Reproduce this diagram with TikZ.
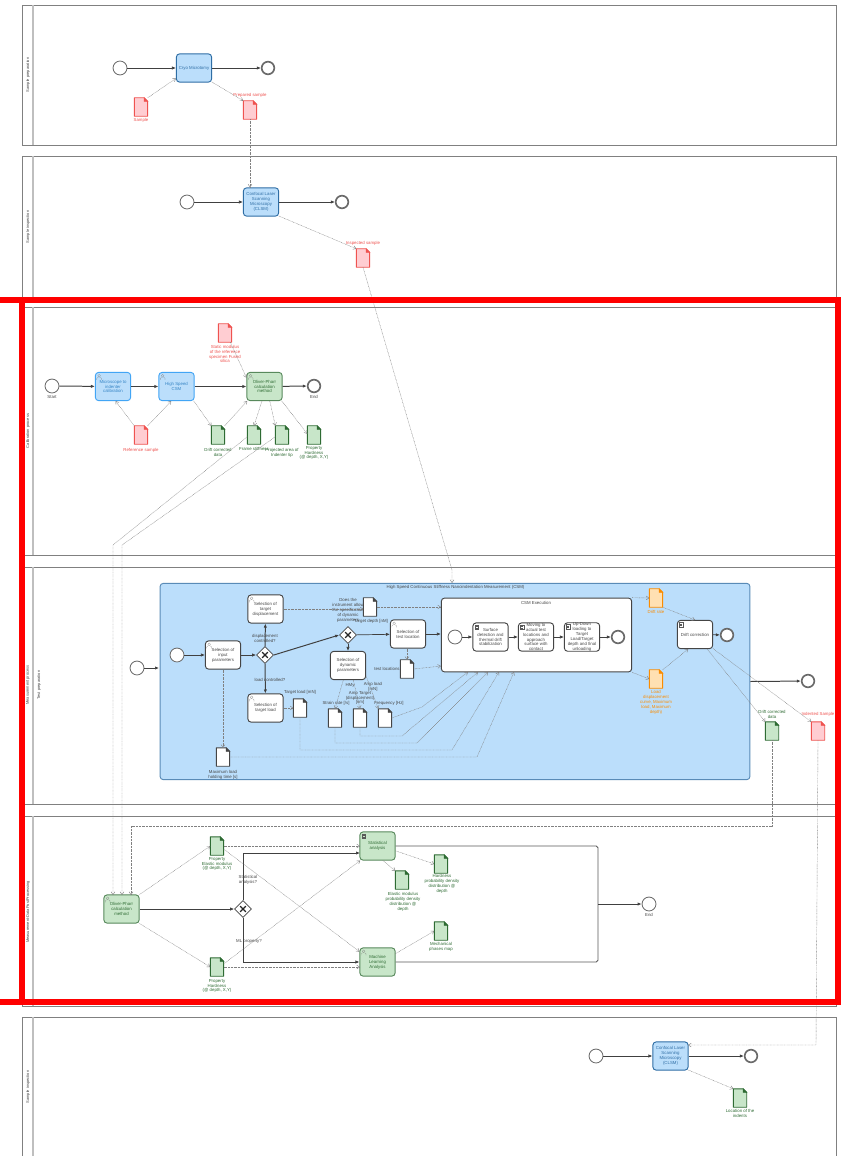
\documentclass[tikz,border=0pt]{standalone}
\usepackage{fontspec}
\setmainfont{Liberation Sans}
\usetikzlibrary{arrows.meta,shapes.geometric}
\definecolor{blueFill}{HTML}{BBDEFB}
\definecolor{blueDark}{HTML}{2F6EA5}
\definecolor{blueLine}{HTML}{42A5F5}
\definecolor{greenFill}{HTML}{C8E6C9}
\definecolor{greenLine}{HTML}{2E6B33}
\definecolor{redFill}{HTML}{FFCDD2}
\definecolor{redLine}{HTML}{EF5350}
\definecolor{orangeFill}{HTML}{FFE0B2}
\definecolor{orangeLine}{HTML}{FB8C00}
\definecolor{inkGray}{HTML}{454545}
\tikzset{
  tiny3/.style={font=\fontsize{3.7}{4.2}\selectfont,align=center},
  lane/.style={draw=gray,line width=0.8pt},
  lanebar/.style={draw=gray!50,line width=1.5pt},
  lanename/.style={font=\fontsize{3.4}{4.1}\selectfont,rotate=90,text=inkGray,inner sep=0pt},
  event/.style={circle,draw=inkGray!80,fill=white,line width=0.7pt,minimum size=11.9pt,inner sep=0pt},
  endevent/.style={event,line width=1.4pt,minimum size=10.8pt},
  taskbox/.style={tiny3,rectangle,rounded corners=2.6pt,line width=0.8pt,minimum width=30pt,minimum height=24pt,inner sep=0pt},
  bluetask/.style={taskbox,draw=blueDark,fill=blueFill,text=blueDark},
  caltask/.style={taskbox,draw=blueLine,fill=blueFill,text=blueLine!80!black},
  greentask/.style={taskbox,draw=greenLine!80,fill=greenFill,text=greenLine},
  whitetask/.style={taskbox,draw=inkGray,fill=white,text=inkGray},
  usermark/.style={path picture={
    \draw[line width=0.15pt,draw=gray,rounded corners=0pt] ([shift={(3.2pt,-2.8pt)}]path picture bounding box.north west) circle (1.2pt);
    \draw[line width=0.15pt,draw=gray,rounded corners=0pt] ([shift={(1.2pt,-6.4pt)}]path picture bounding box.north west) -- ++(0,1.4pt) -- ++(1pt,.8pt) -- ++(2pt,0) -- ++(1pt,-.8pt) -- ++(0,-1.4pt);}},
  scriptmark/.style={path picture={
    \draw[line width=0.15pt,draw=gray!70!black,rounded corners=0pt] ([shift={(1.5pt,-1.5pt)}]path picture bounding box.north west) rectangle ++(3pt,-4pt);
    \draw[line width=0.15pt,draw=gray!70!black,rounded corners=0pt] ([shift={(2.1pt,-2.8pt)}]path picture bounding box.north west) -- ++(1.8pt,0) ++(-1.8pt,-1.2pt) -- ++(1.8pt,0);}},
  gatewayx/.style={diamond,draw=inkGray,fill=white,line width=0.6pt,minimum width=14.5pt,minimum height=14.5pt,inner sep=0pt,aspect=1,
    path picture={\draw[line width=1.1pt,draw=black!85] ([shift={(-2.4pt,-2.4pt)}]path picture bounding box.center) -- ++(4.8pt,4.8pt) ++(-4.8pt,0) -- ++(4.8pt,-4.8pt);}},
  docfile/.style n args={2}{rectangle,minimum width=11pt,minimum height=15.3pt,inner sep=0pt,
    append after command={\pgfextra{
      \draw[line width=0.75pt,draw=#1,fill=#2,line join=round] (\tikzlastnode.north west) -- ([xshift=-3pt]\tikzlastnode.north east) -- ([yshift=-3pt]\tikzlastnode.north east) -- (\tikzlastnode.south east) -- (\tikzlastnode.south west) -- cycle;
      \draw[line width=0.5pt,draw=#1,fill=#1] ([xshift=-3pt]\tikzlastnode.north east) -- ([yshift=-3pt]\tikzlastnode.north east) -- ([shift={(-3pt,-3pt)}]\tikzlastnode.north east) -- cycle;}}},
  reddoc/.style={docfile={redLine}{redFill}},
  greendoc/.style={docfile={greenLine}{greenFill}},
  orangedoc/.style={docfile={orangeLine}{orangeFill}},
  whitedoc/.style={docfile={inkGray}{white}},
  lab/.style={tiny3,inner sep=0pt,text=inkGray},
  redlab/.style={lab,text=redLine},
  greenlab/.style={lab,text=greenLine},
  orangelab/.style={lab,text=orangeLine},
  seqflow/.style={draw=black!75,line width=0.6pt,-{Latex[length=3.4pt,width=2.8pt]}},
  boldflow/.style={seqflow,line width=0.85pt},
  dataflow/.style={draw=black!50,line width=0.35pt,dash pattern=on 0.6pt off 0.6pt,-{Straight Barb[length=2.4pt,width=3.2pt]}},
}
\begin{document}
\begin{tikzpicture}[x=0.03cm,y=-0.03cm]
\useasboundingbox (0,0) rectangle (846,1156);
\fill[white] (0,0) rectangle (846,1156);
\draw[lane] (22.5,5) rectangle (836,145);
\draw[lane] (22.5,156) rectangle (836,297);
\draw[lane] (22.5,307) rectangle (836,555);
\draw[lane] (22.5,567) rectangle (836,804);
\draw[lane] (22.5,816) rectangle (836,1006);
\draw[lane] (22.5,1156) -- (22.5,1017) -- (836,1017) -- (836,1156);
\draw[lanebar] (33,5) -- (33,145);
\draw[lanebar] (33,156) -- (33,297);
\draw[lanebar] (33,307) -- (33,555);
\draw[lanebar] (33,567) -- (33,804);
\draw[lanebar] (33,816) -- (33,1006);
\draw[lanebar] (33,1017) -- (33,1156);
\node[lanename] (lanePrep) at (28,75) {Sample preparation};
\node[lanename] (laneInsp) at (28,227) {Sample inspection};
\node[lanename] (laneCal) at (28,431) {Calibration process};
\node[lanename] (laneMeas) at (28,685) {Measurement process};
\node[lanename] (laneTest) at (39,685) {Test preparation};
\node[lanename] (lanePost) at (28,912) {Measurement-DataPostProcessing};
\node[lanename] (laneFinal) at (28,1087) {Sample inspection};

\node[event] (prepStart) at (120,68) {};
\node[bluetask] (cryoTask) at (194,68) {Cryo Microtomy};
\node[endevent] (prepEnd) at (268,68) {};
\node[reddoc] (sampleDoc) at (141,107) {};
\node[redlab] (sampleLab) at (141,120) {Sample};
\node[reddoc] (preparedDoc) at (250,110) {};
\node[redlab] (preparedLab) at (250,95) {Prepared sample};
\draw[seqflow] (prepStart) -- (cryoTask);
\draw[seqflow] (cryoTask) -- (prepEnd);
\draw[dataflow] (sampleDoc.north east) -- (cryoTask.-150);
\draw[dataflow] (cryoTask.-38) -- (preparedDoc.north west);

\node[event] (inspStart) at (187,202) {};
\node[bluetask] (clsmTask) at (261,202) {Confocal Laser\\Scanning\\Microscopy\\(CLSM)};
\node[endevent] (inspEnd) at (342,202) {};
\node[reddoc] (inspectedDoc) at (363,258) {};
\node[redlab] (inspectedLab) at (363,243) {Inspected sample};
\draw[seqflow] (inspStart) -- (clsmTask);
\draw[seqflow] (clsmTask) -- (inspEnd);
\draw[dataflow] (preparedDoc.south) -- (preparedDoc.south |- clsmTask.north);
\draw[dataflow] (clsmTask.-38) -- (inspectedDoc.north west);

\node[event] (calStart) at (52,386) {};
\node[lab] (calStartLab) at (52,397) {Start};
\node[caltask,usermark] (microTask) at (113,386.5) {Microscope to\\indenter\\calibration};
\node[caltask,usermark] (speedTask) at (176.5,386.5) {High Speed\\CSM};
\node[greentask,usermark] (oliverTask) at (264.5,386.5) {Oliver-Pharr\\calculation\\method};
\node[endevent] (calEnd) at (314,386) {};
\node[lab] (calEndLab) at (314,397) {End};
\node[reddoc] (staticDoc) at (225,333) {};
\node[redlab] (staticLab) at (225,354) {Static modulus\\of the reference\\specimen Fused\\silica};
\node[reddoc] (referenceDoc) at (141,435) {};
\node[redlab] (referenceLab) at (141,450) {Reference sample};
\node[greendoc] (driftDoc) at (218,435) {};
\node[greenlab] (driftLab) at (218,452.5) {Drift corrected\\data};
\node[greendoc] (frameDoc) at (254,435) {};
\node[greenlab] (frameLab) at (254,449) {Frame stiffness};
\node[greendoc] (areaDoc) at (282,435) {};
\node[greenlab] (areaLab) at (282,452.5) {Projected area of\\Indenter tip};
\node[greendoc] (propDoc) at (314,435) {};
\node[greenlab] (propLab) at (314,453) {Property\\Hardness\\(@ depth, X,Y)};
\draw[boldflow] (calStart) -- (microTask);
\draw[boldflow] (microTask) -- (speedTask);
\draw[boldflow] (speedTask) -- (oliverTask);
\draw[boldflow] (oliverTask) -- (calEnd);
\draw[dataflow] (referenceDoc.north west) -- (microTask.-80);
\draw[dataflow] (referenceDoc.north east) -- (speedTask.-110);
\draw[dataflow] (speedTask.-40) -- (driftDoc.north west);
\draw[dataflow] (driftDoc.north east) -- (oliverTask.-140);
\draw[dataflow] (staticDoc.-60) -- (oliverTask.154);
\draw[dataflow] (oliverTask.-100) -- (frameDoc.north);
\draw[dataflow] (oliverTask.-70) -- (areaDoc.north west);
\draw[dataflow] (oliverTask.-40) -- (propDoc.170);

\node[draw=blueDark!80,fill=blueFill,line width=0.8pt,rounded corners=2.6pt,minimum width=503.4pt,minimum height=167.5pt,inner sep=0pt] (csmProcess) at (455,681.5) {};
\node[lab] (csmProcessLab) at (455.5,587) {High Speed Continuous Stiffness Nanoindentation Measurement (CSM)};
\node[draw=inkGray,fill=white,line width=0.8pt,rounded corners=2.6pt,minimum width=162.4pt,minimum height=62.9pt,inner sep=0pt] (csmRun) at (536.5,635) {};
\node[lab] (csmRunLab) at (536,603) {CSM Execution};
\node[event] (outerStart) at (137,668) {};
\coordinate (outerIn) at (159,668);
\node[endevent] (outerEnd) at (808,681) {};
\node[event] (innerStart) at (177,655) {};
\node[whitetask,usermark] (inputTask) at (223,655) {Selection of\\input\\parameters};
\node[gatewayx] (modeGate) at (265,655) {};
\node[lab] (dispAsk) at (265,638) {displacement\\controlled?};
\node[lab] (loadAsk) at (270,680) {load controlled?};
\node[whitetask,usermark] (dispTask) at (265.5,609) {Selection of\\target\\displacement};
\node[whitetask,usermark] (loadTask) at (265.5,708) {Selection of\\target load};
\node[whitedoc] (loadDoc) at (300,708) {};
\node[lab] (loadDocLab) at (300,692) {Target load [mN]};
\node[whitedoc] (depthDoc) at (370,607) {};
\node[lab] (askLab) at (348,610.5) {Does the\\instrument allow\\the specification\\of dynamic\\parameters};
\node[lab] (depthLab) at (371,621) {Target depth [nM]};
\node[gatewayx] (dynGate) at (348,635) {};
\node[whitetask] (dynTask) at (348,665.5) {Selection of\\dynamic\\parameters};
\node[whitetask,usermark] (placeTask) at (408,634) {Selection of\\test location};
\node[whitedoc] (placeDoc) at (407,669) {};
\node[lab] (placeLab) at (387,669) {test locations};
\node[whitedoc] (rateDoc) at (335,718) {};
\node[lab] (rateLab) at (336,703) {Strain rate [/s]};
\node[whitedoc] (ampDoc) at (360,718) {};
\node[lab] (hmyLab) at (350,685) {HMy};
\node[lab] (ampLoadLab) at (373,687) {Amp load\\{}[mN]};
\node[lab] (ampLab) at (360,698) {Amp Target\\(displacement)\\{}[nm]};
\node[whitedoc] (freqDoc) at (385,718) {};
\node[lab] (freqLab) at (389,703) {Frequency [Hz]};
\node[whitedoc] (holdDoc) at (223,757) {};
\node[lab] (holdLab) at (223,774.5) {Maximum load\\holding time [s]};
\node[event] (runStart) at (455,637) {};
\node[whitetask,scriptmark] (surfTask) at (490.5,637) {Surface\\detection and\\thermal drift\\stabilization};
\node[whitetask,scriptmark] (moveTask) at (536,637) {Moving to\\actual test\\locations and\\approach\\surface with\\contact};
\node[whitetask,scriptmark] (cycleTask) at (582,637) {Up-Down\\loading to\\Target\\Load/Target\\depth and final\\unloading};
\node[endevent] (runEnd) at (618,637) {};
\node[orangedoc] (rateOutDoc) at (656,598) {};
\node[orangelab] (rateOutLab) at (656,612) {Drift rate};
\node[orangedoc] (curveDoc) at (656,679) {};
\node[orangelab] (curveLab) at (656,702.5) {Load\\displacement\\curve, Maximum\\load, Maximum\\depth)};
\node[whitetask,scriptmark] (fixTask) at (695,634.5) {Drift correction};
\node[endevent] (fixEnd) at (727,635) {};
\node[greendoc] (fixedDoc) at (772,731) {};
\node[greenlab] (fixedLab) at (772,714.5) {Drift corrected\\data};
\node[reddoc] (indentedDoc) at (818,731) {};
\node[redlab] (indentedLab) at (818,714) {Indented Sample};
\draw[seqflow] (outerStart) -- (outerIn);
\draw[boldflow] (csmProcess.east) -- (outerEnd);
\draw[seqflow] (innerStart) -- (inputTask);
\draw[seqflow] (inputTask) -- (modeGate);
\draw[boldflow] (modeGate) -- (dispTask);
\draw[boldflow] (modeGate) -- (loadTask);
\draw[boldflow] (modeGate.east) -- (dynGate.west);
\draw[seqflow] (dynGate) -- (dynTask);
\draw[seqflow] (dynGate) -- (placeTask);
\draw[seqflow] (placeTask) -- (csmRun.west |- placeTask);
\draw[seqflow] (runStart) -- (surfTask);
\draw[seqflow] (surfTask) -- (moveTask);
\draw[seqflow] (moveTask) -- (cycleTask);
\draw[seqflow] (cycleTask) -- (runEnd);
\draw[seqflow] (fixTask) -- (fixEnd);
\coordinate (specBend) at (452,570);
\coordinate (specIn) at (452,583);
\draw[dataflow] (inspectedDoc.south) -- (specBend) -- (specIn);
\draw[dataflow] (dispTask.east) -- (depthDoc.west |- dispTask);
\draw[dataflow] (depthDoc.east) -- (csmRun.west |- depthDoc);
\draw[dataflow] (loadTask) -- (loadDoc);
\draw[dataflow] (inputTask) -- (holdDoc);
\draw[dataflow] (dynTask.-108) -- (rateDoc.north);
\draw[dataflow] (dynTask.-70) -- (ampDoc.north);
\draw[dataflow] (dynTask.-30) -- (freqDoc.north west);
\draw[dataflow] (placeTask.south -| placeDoc) -- (placeDoc.north);
\draw[dataflow] (placeDoc.east) -- (csmRun.-162);
\coordinate (freqBend) at (422,707);
\coordinate (freqIn) at (468,672);
\draw[dataflow] (freqDoc.east) -- (freqBend) -- (freqIn);
\coordinate (ampTurn) at (360,736);
\coordinate (ampBend) at (402,736);
\coordinate (ampIn) at (478,672);
\draw[dataflow] (ampDoc.south) -- (ampTurn) -- (ampBend) -- (ampIn);
\coordinate (rateTurn) at (335,743);
\coordinate (rateBend) at (417,743);
\coordinate (rateIn) at (488,672);
\draw[dataflow] (rateDoc.south) -- (rateTurn) -- (rateBend) -- (rateIn);
\coordinate (loadTurn) at (300,750);
\coordinate (loadBend) at (452,750);
\coordinate (loadIn) at (499,672);
\draw[dataflow] (loadDoc.south) -- (loadTurn) -- (loadBend) -- (loadIn);
\coordinate (holdBend) at (477,757);
\coordinate (holdIn) at (514,672);
\draw[dataflow] (holdDoc.east) -- (holdBend) -- (holdIn);
\draw[dataflow] (csmRun.north east) -- (rateOutDoc.west);
\draw[dataflow] (csmRun.south east) -- (curveDoc.west);
\draw[dataflow] (rateOutDoc.south east) -- (fixTask.north);
\draw[dataflow] (curveDoc.north east) -- (fixTask.-115);
\draw[dataflow] (fixTask.-50) -- (fixedDoc.north west);
\draw[dataflow] (fixTask.-38) -- (indentedDoc.north west);

\node[greentask,usermark] (methodTask) at (121.5,909) {Oliver-Pharr\\calculation\\method};
\node[gatewayx] (anaGate) at (243,909) {};
\node[lab] (statAsk) at (248,880) {Statistical\\analysis?};
\node[lab] (mlAsk) at (249,941) {ML property?};
\node[greendoc] (elasticDoc) at (217,846) {};
\node[greenlab] (elasticLab) at (217,864) {Property\\Elastic modulus\\(@ depth, X,Y)};
\node[greendoc] (hardDoc) at (217,967) {};
\node[greenlab] (hardLab) at (217,986) {Property\\Hardness\\(@ depth, X,Y)};
\node[greentask,scriptmark] (statTask) at (377.5,846) {Statistical\\analysis};
\node[greentask,usermark] (mlTask) at (377.5,962) {Machine\\Learning\\Analysis};
\node[greendoc] (hardPdfDoc) at (441,864) {};
\node[greenlab] (hardPdfLab) at (442,884) {Hardness\\probability density\\distribution @\\depth};
\node[greendoc] (elasticPdfDoc) at (402,880) {};
\node[greenlab] (elasticPdfLab) at (403,902) {Elastic modulus\\probability density\\distribution @\\depth};
\node[greendoc] (phaseDoc) at (441,931) {};
\node[greenlab] (phaseLab) at (441,946.5) {Mechanical\\phases map};
\node[event] (postEnd) at (649,904) {};
\node[lab] (postEndLab) at (649,915) {End};
\coordinate (statIn) at (360,853);
\coordinate (statData) at (360,846);
\coordinate (mlData) at (360,967);
\coordinate (mergeTop) at (598,846);
\coordinate (mergeMid) at (598,904);
\coordinate (mergeLow) at (598,962);
\coordinate (fixedTurn) at (772,826);
\coordinate (fixedLeft) at (131,826);
\coordinate (methodIn) at (131,895);
\coordinate (frameBend) at (113,545);
\coordinate (frameIn) at (113,895);
\coordinate (areaBend) at (122,545);
\coordinate (areaIn) at (122,895);
\draw[seqflow] (methodTask) -- (anaGate);
\draw[seqflow] (anaGate.north) |- (statIn);
\draw[seqflow] (anaGate.south) |- (mlTask.west);
\draw[draw=black!65,line width=0.7pt,rounded corners=1.5pt] (statTask.east) -- (mergeTop) -- (mergeLow) -- (mlTask.east);
\draw[boldflow] (mergeMid) -- (postEnd);
\draw[dataflow] (methodTask.north east) -- (elasticDoc.west);
\draw[dataflow] (methodTask.south east) -- (hardDoc.west);
\draw[dataflow] (elasticDoc.east) -- (statData);
\draw[dataflow] (hardDoc.east) -- (mlData);
\draw[dataflow] (elasticDoc.-25) -- (mlTask.150);
\draw[dataflow] (hardDoc.25) -- (statTask.-140);
\draw[dataflow] (statTask.-15) -- (hardPdfDoc.west);
\draw[dataflow] (statTask.-70) -- (elasticPdfDoc.north west);
\draw[dataflow] (mlTask.25) -- (phaseDoc.west);
\draw[dataflow] (frameDoc.-165) -- (frameBend) -- (frameIn);
\draw[dataflow] (areaDoc.-165) -- (areaBend) -- (areaIn);
\draw[dataflow] (fixedDoc.south) -- (fixedTurn) -- (fixedLeft) -- (methodIn);

\node[event] (finalStart) at (596,1056) {};
\node[bluetask] (finalTask) at (670.5,1056) {Confocal Laser\\Scanning\\Microscopy\\(CLSM)};
\node[endevent] (finalEnd) at (751,1056) {};
\node[greendoc] (indentsDoc) at (740,1098) {};
\node[greenlab] (indentsLab) at (740,1113.5) {Location of the\\indents};
\coordinate (sampleTurn) at (816,1045);
\coordinate (sampleIn) at (688,1045);
\draw[seqflow] (finalStart) -- (finalTask);
\draw[seqflow] (finalTask) -- (finalEnd);
\draw[dataflow] (finalTask.-38) -- (indentsDoc.north west);
\draw[dataflow] (indentedDoc.south) -- (sampleTurn) -- (sampleIn);

\draw[red,line width=5pt] (0,300) -- (838,300) -- (838,1002) -- (0,1002);
\draw[red,line width=5pt] (22,300) -- (22,1002);
\end{tikzpicture}
\end{document}
